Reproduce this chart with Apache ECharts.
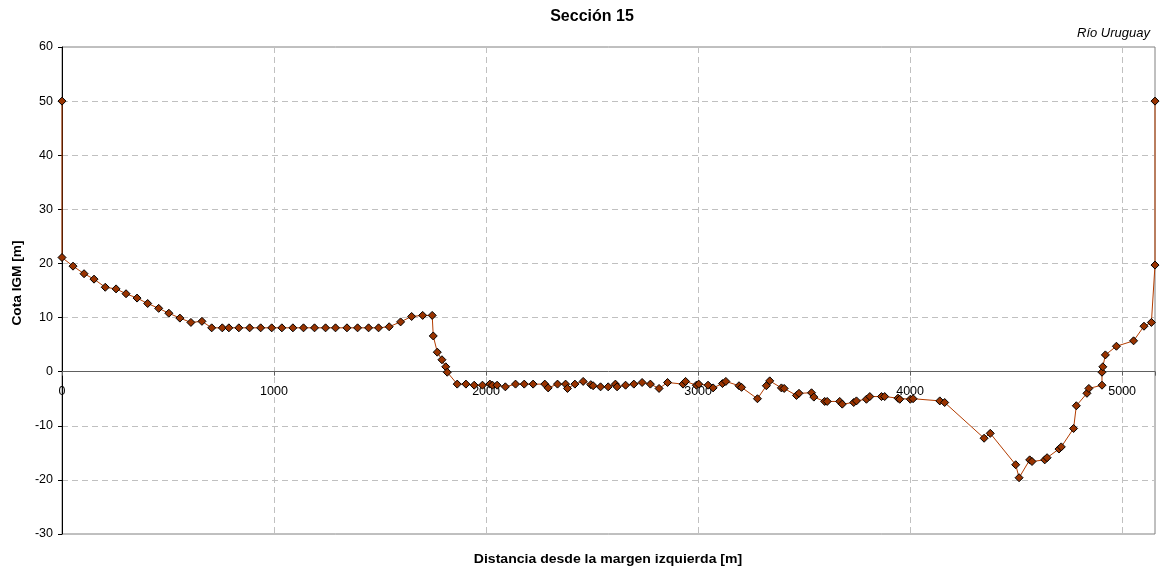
<!DOCTYPE html>
<html>
<head>
<meta charset="utf-8">
<script src="https://cdn.jsdelivr.net/npm/echarts@6/dist/echarts.min.js"></script>
<style>
html,body{margin:0;padding:0;background:#fff;}
#chart{width:1162px;height:570px;}
</style>
</head>
<body>
<div id="chart"></div>
<script>
// Distance from left bank [m]
const distances = [
  0, 0, 52, 104, 151, 204, 255, 302, 354, 404, 456, 504, 556, 608, 660, 706, 756, 787, 834, 885,
  937, 989, 1037, 1089, 1139, 1191, 1243, 1290, 1344, 1394, 1446, 1493, 1543, 1597, 1649, 1701, 1746,
  1751, 1770, 1792, 1810, 1817, 1864, 1905, 1944, 1983, 2018, 2030, 2052, 2091, 2139, 2180, 2222,
  2277, 2293, 2337, 2375, 2384, 2419, 2458, 2494, 2505, 2540, 2576, 2610, 2618, 2658, 2697, 2736,
  2775, 2816, 2856, 2929, 2941, 2992, 3003, 3047, 3071, 3115, 3131, 3193, 3205, 3280, 3322, 3338,
  3393, 3406, 3464, 3476, 3535, 3546, 3597, 3609, 3668, 3680, 3734, 3747, 3794, 3810, 3865, 3880,
  3943, 3951, 4001, 4014, 4140, 4163, 4349, 4378, 4498, 4514, 4564, 4575, 4635, 4646, 4702, 4713,
  4771, 4784, 4834, 4843, 4905, 4905, 4909, 4921, 4973, 5054, 5103, 5138, 5155, 5155
];
// Elevation IGM [m]
const elevations = [
  50, 21.1, 19.5, 18.1, 17.1, 15.6, 15.3, 14.4, 13.6, 12.6, 11.7, 10.8, 9.9, 9.1, 9.3, 8.1, 8.1, 8.1, 8.1, 8.1,
  8.1, 8.1, 8.1, 8.1, 8.1, 8.1, 8.1, 8.1, 8.1, 8.1, 8.1, 8.1, 8.3, 9.2, 10.2, 10.4, 10.4,
  6.6, 3.6, 2.2, 0.9, -0.1, -2.3, -2.3, -2.5, -2.5, -2.3, -2.5, -2.5, -2.8, -2.3, -2.3, -2.3,
  -2.3, -3.0, -2.3, -2.3, -3.1, -2.3, -1.8, -2.4, -2.6, -2.8, -2.8, -2.3, -2.8, -2.5, -2.3, -2.0,
  -2.3, -3.1, -2.0, -2.3, -1.8, -2.5, -2.3, -2.5, -3.0, -2.2, -1.8, -2.6, -2.9, -5.0, -2.6, -1.7,
  -3.0, -3.1, -4.4, -4.0, -3.9, -4.7, -5.5, -5.5, -5.5, -6.0, -5.7, -5.4, -5.1, -4.6, -4.6, -4.6,
  -4.9, -5.1, -5.1, -5.0, -5.4, -5.7, -12.3, -11.4, -17.2, -19.6, -16.3, -16.6, -16.3, -15.9, -14.3, -13.9,
  -10.5, -6.3, -4.0, -3.1, -2.5, -0.1, 0.9, 3.1, 4.7, 5.7, 8.4, 9.1, 19.7, 50
];
const xTicks = [0, 1000, 2000, 3000, 4000, 5000];
const yTicks = [-30, -20, -10, 0, 10, 20, 30, 40, 50, 60];

const chartTitle = 'Sección 15';
const riverName = 'Río Uruguay';
const xName = 'Distancia desde la margen izquierda [m]';
const yName = 'Cota IGM [m]';

const points = distances.map((d, i) => [d, elevations[i]]);
const FONT = '"Liberation Sans", Arial, sans-serif';

const GRID = {left: 62, right: 7, top: 47, bottom: 36};
const plotH = 570 - GRID.top - GRID.bottom;
const yMin = yTicks[0], yMax = yTicks[yTicks.length - 1];
// place the x axis on the zero line
const zeroOffset = -((0 - yMin) / (yMax - yMin)) * plotH;

const chart = echarts.init(document.getElementById('chart'), null, {renderer: 'canvas'});
chart.setOption({
  animation: false,
  backgroundColor: '#ffffff',
  grid: Object.assign({show: true, borderColor: '#808080', borderWidth: 1, backgroundColor: 'transparent'}, GRID),
  graphic: [
    {type: 'text', x: 592, y: 17, style: {text: chartTitle, font: 'bold 16px ' + FONT, fill: '#000', align: 'center', verticalAlign: 'middle'}},
    {type: 'text', x: 1150, y: 33, style: {text: riverName, font: 'italic 13px ' + FONT, fill: '#000', align: 'right', verticalAlign: 'middle'}},
    {type: 'text', x: 608, y: 560, scaleX: 1.17, style: {text: xName, font: 'bold 12px ' + FONT, fill: '#000', align: 'center', verticalAlign: 'middle'}},
    {type: 'text', x: 18, y: 283, rotation: Math.PI / 2, scaleX: 1.14, style: {text: yName, font: 'bold 12px ' + FONT, fill: '#000', align: 'center', verticalAlign: 'middle'}}
  ],
  xAxis: {
    type: 'value',
    position: 'bottom',
    offset: zeroOffset,
    min: xTicks[0],
    max: 5155,
    interval: 1000,
    axisLine: {show: true, onZero: false, lineStyle: {color: '#606060', width: 1}},
    axisTick: {show: true, length: 4, lineStyle: {color: '#606060'}},
    axisLabel: {
      fontFamily: FONT, fontSize: 12.5, color: '#000', margin: 13,
      formatter: v => (xTicks.indexOf(v) >= 0 ? String(v) : '')
    },
    splitLine: {show: true, showMinLine: false, showMaxLine: false, lineStyle: {color: '#c0c0c0', type: [6, 4], width: 1}}
  },
  yAxis: {
    type: 'value',
    min: yMin,
    max: yMax,
    interval: 10,
    axisLine: {show: true, onZero: false, lineStyle: {color: '#000', width: 1}},
    axisTick: {show: true, length: 4, lineStyle: {color: '#000'}},
    axisLabel: {fontFamily: FONT, fontSize: 12.5, color: '#000', margin: 9},
    splitLine: {show: true, showMinLine: false, showMaxLine: false, lineStyle: {color: '#c0c0c0', type: [6, 4], width: 1}}
  },
  series: [{
    type: 'line',
    data: points,
    symbol: 'diamond',
    symbolSize: 8,
    showAllSymbol: true,
    lineStyle: {color: '#b33c00', width: 1},
    itemStyle: {color: '#993300', borderColor: '#000', borderWidth: 1},
    z: 5
  }]
});
</script>
</body>
</html>
